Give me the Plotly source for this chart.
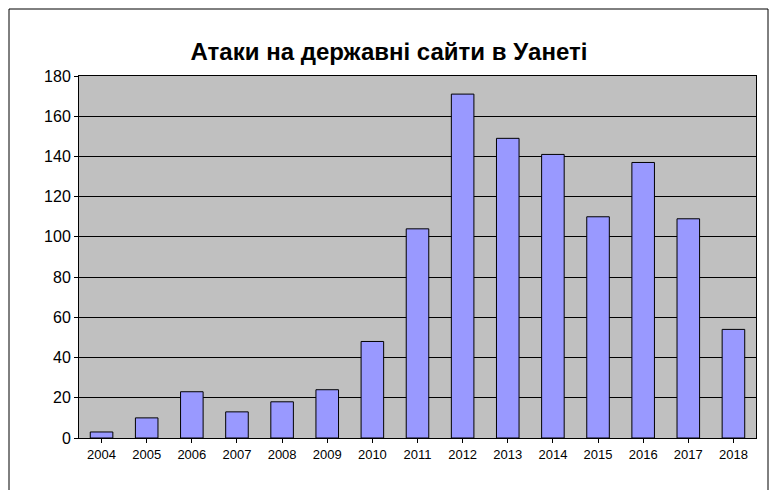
import plotly.graph_objects as go

years = [str(y) for y in range(2004, 2019)]
attacks = [3, 10, 23, 13, 18, 24, 48, 104, 171, 149, 141, 110, 137, 109, 54]

fig = go.Figure(go.Bar(x=years, y=attacks, marker=dict(color="#9999FF", line=dict(color="black", width=1)), width=0.5))

def px(x): return (x - 71) / 677
def py(y): return (430 - y) / 362

fig.update_layout(
    width=762, height=482,
    margin=dict(l=71, r=14, t=68, b=52),
    paper_bgcolor="white", plot_bgcolor="#C0C0C0",
    title=dict(text="<b>Атаки на державні сайти в Уанеті</b>", x=0.5, xanchor="center", y=0.91, yanchor="middle",
               font=dict(family="Liberation Sans, Arial", size=24, color="black")),
    font=dict(family="Liberation Sans, Arial", color="black"),
    xaxis=dict(showline=True, linecolor="black", mirror=True, ticks="outside", tickcolor="black", ticklen=4,
               tickfont=dict(size=13)),
    yaxis=dict(range=[0, 180], dtick=20, showgrid=True, gridcolor="black", gridwidth=1, showline=True,
               linecolor="black", mirror=True, ticks="outside", tickcolor="black", ticklen=4,
               tickfont=dict(size=16), zeroline=False),
    shapes=[dict(type="rect", xref="paper", yref="paper", x0=px(1), x1=px(760), y0=py(483), y1=py(1),
                 line=dict(color="black", width=1), layer="below")],
    showlegend=False,
)
fig.write_html("out.html")
